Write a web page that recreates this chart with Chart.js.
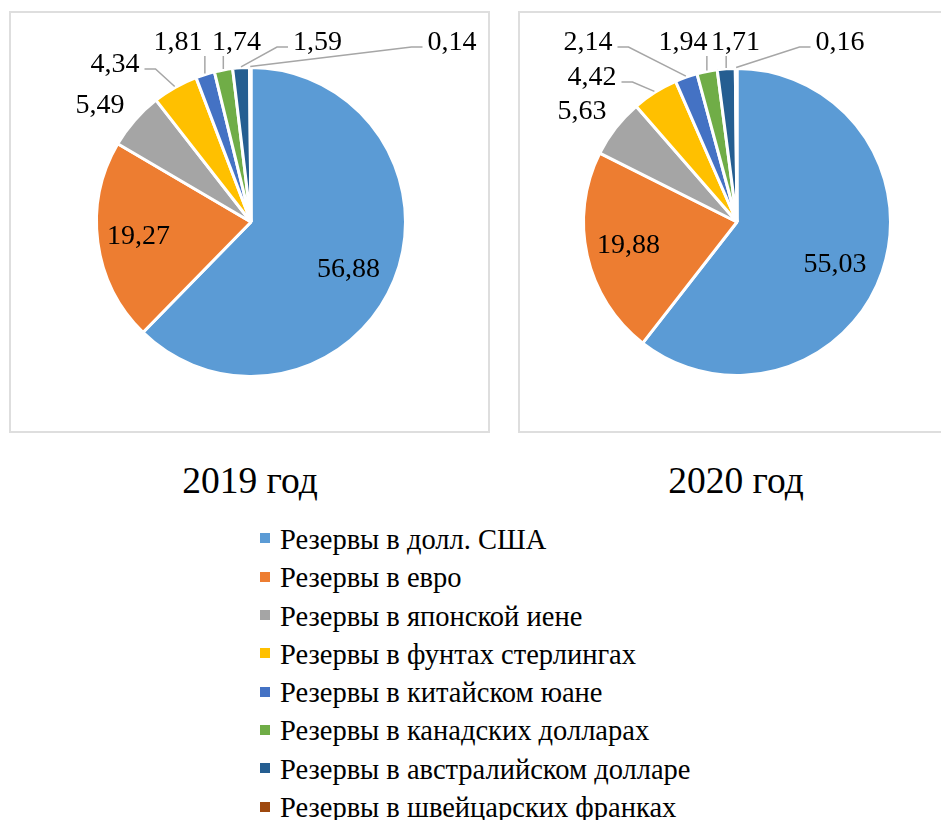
<!DOCTYPE html>
<html>
<head>
<meta charset="utf-8">
<script src="https://cdn.jsdelivr.net/npm/chart.js@4.4.1/dist/chart.umd.min.js"></script>
<style>
  body { margin: 0; background: #fff; width: 941px; height: 820px; overflow: hidden; position: relative;
         font-family: 'Liberation Serif', 'Times New Roman', serif; color: #000; }
  .box { position: absolute; top: 11px; height: 422px; border: 2px solid #dedede; box-sizing: border-box; }
  canvas { position: absolute; top: 11px; }
  .title { position: absolute; top: 462px; width: 300px; text-align: center; font-size: 37.5px; line-height: 37.5px; }
  #legend { position: absolute; left: 260px; top: 521px; }
  .item { height: 38.3px; line-height: 38.3px; font-size: 28.5px; white-space: nowrap; }
  .sw { display: inline-block; width: 10px; height: 10px; margin-right: 10px; vertical-align: middle;
        position: relative; top: -4px; }
</style>
</head>
<body>
<div class="box" style="left:9px;width:481px"></div>
<div class="box" style="left:518px;width:440px"></div>
<canvas id="pie2019" width="481" height="422" style="left:9px"></canvas>
<canvas id="pie2020" width="423" height="422" style="left:518px"></canvas>
<div class="title" style="left:100px">2019 год</div>
<div class="title" style="left:586px">2020 год</div>
<div id="legend"></div>
<script>
// --- Data ---
const categories = [
  'Резервы в долл. США',
  'Резервы в евро',
  'Резервы в японской иене',
  'Резервы в фунтах стерлингах',
  'Резервы в китайском юане',
  'Резервы в канадских долларах',
  'Резервы в австралийском долларе',
  'Резервы в швейцарских франках'
];
const values2019 = [56.88, 19.27, 5.49, 4.34, 1.81, 1.74, 1.59, 0.14];
const values2020 = [55.03, 19.88, 5.63, 4.42, 2.14, 1.94, 1.71, 0.16];

const COLORS = ['#5B9BD5', '#ED7D31', '#A5A5A5', '#FFC000', '#4472C4', '#70AD47', '#255E91', '#9E480E'];

// label spots relative to pie centre: [dx, dy, leader line?]
const spots2019 = [[97.5, 45.5, 0], [-112.5, 12, 0], [-151, -119, 0], [-136, -160, 1],
                   [-73, -182, 1], [-14.5, -182, 1], [66.5, -182, 1], [201, -182, 1]];
const spots2020 = [[98, 40.5, 0], [-108.5, 21, 0], [-155, -113, 0], [-145, -147, 1],
                   [-149, -182, 1], [-54, -182, 1], [-1.5, -182, 1], [103, -182, 1]];

// --- Slice labels with leader lines ---
const sliceLabels = {
  id: 'sliceLabels',
  afterDatasetsDraw(chart, args, opts) {
    const ctx = chart.ctx;
    const meta = chart.getDatasetMeta(0);
    const data = chart.data.datasets[0].data;
    const size = 28;
    ctx.save();
    ctx.font = size + 'px "Liberation Serif", "Times New Roman", serif';
    ctx.textAlign = 'center';
    ctx.textBaseline = 'alphabetic';
    ctx.strokeStyle = '#a6a6a6';
    ctx.lineWidth = 1.5;
    meta.data.forEach((arc, i) => {
      const s = opts.spots[i];
      const text = data[i].toFixed(2).replace('.', ',');
      const lx = arc.x + s[0], ly = arc.y + s[1];
      if (s[2]) {
        const mid = (arc.startAngle + arc.endAngle) / 2;
        const r = arc.outerRadius + 1;
        const ax = arc.x + Math.cos(mid) * r, ay = arc.y + Math.sin(mid) * r;
        const hw = ctx.measureText(text).width / 2 + 5;
        ctx.beginPath();
        if (ax >= lx - hw - 1 && ax <= lx + hw + 1) {
          ctx.moveTo(ax, ay);
          ctx.lineTo(ax, ly + 16);
        } else {
          const side = ax < lx ? -1 : 1;
          const ex = lx + side * hw;
          ctx.moveTo(ex, ly + 7);
          ctx.lineTo(ex + side * 11, ly + 7);
          ctx.lineTo(ax, ay);
        }
        ctx.stroke();
      }
      ctx.fillStyle = '#000';
      ctx.fillText(text, lx, ly + size * 0.34);
    });
    ctx.restore();
  }
};

function makePie(id, values, spots, padLeft, radius) {
  return new Chart(document.getElementById(id), {
    type: 'pie',
    data: {
      labels: categories,
      datasets: [{
        data: values,
        backgroundColor: COLORS,
        borderColor: '#fff',
        borderWidth: 3
      }]
    },
    options: {
      responsive: false,
      animation: false,
      radius: radius,
      layout: { padding: { left: padLeft } },
      plugins: {
        legend: { display: false },
        tooltip: { enabled: false },
        sliceLabels: { spots: spots }
      }
    },
    plugins: [sliceLabels]
  });
}

makePie('pie2019', values2019, spots2019, 3, 154.5);
makePie('pie2020', values2020, spots2020, 15, 153.5);

// --- Legend ---
const legend = document.getElementById('legend');
categories.forEach((c, i) => {
  legend.innerHTML += `<div class="item"><span class="sw" style="background:${COLORS[i]}"></span>${c}</div>`;
});
</script>
</body>
</html>
